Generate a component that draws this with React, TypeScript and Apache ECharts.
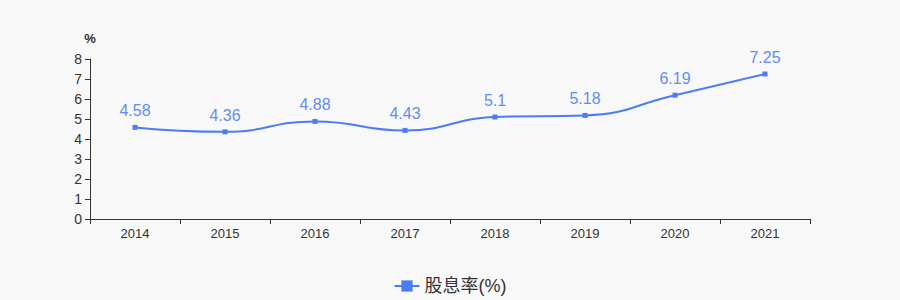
import React, { useEffect, useRef } from "react";
import * as echarts from "echarts";

const categories = ["2014", "2015", "2016", "2017", "2018", "2019", "2020", "2021"];
const dividendYield = [4.58, 4.36, 4.88, 4.43, 5.1, 5.18, 6.19, 7.25];
const seriesName = "股息率(%)";

export default function App() {
  const ref = useRef<HTMLDivElement>(null);
  useEffect(() => {
    const chart = echarts.init(ref.current!, null, { renderer: "svg" });
    chart.setOption({
      animation: false,
      backgroundColor: "#f8f8f8",
      textStyle: { fontFamily: "Arial, 'Liberation Sans', 'Noto Sans CJK SC', sans-serif" },
      grid: { left: 90, right: 90, top: 59, bottom: 81, containLabel: false },
      legend: {
        bottom: 0,
        left: "center",
        itemWidth: 25,
        itemHeight: 14,
        textStyle: { fontSize: 18, color: "#333" },
        data: [seriesName],
      },
      xAxis: {
        type: "category",
        data: categories,
        boundaryGap: true,
        axisLine: { lineStyle: { color: "#333" } },
        axisTick: { show: true, length: 5, lineStyle: { color: "#333" } },
        axisLabel: { color: "#333", fontSize: 13, margin: 8 },
      },
      yAxis: {
        type: "value",
        name: "%",
        nameLocation: "end",
        nameGap: 14,
        nameTextStyle: { color: "#333", fontSize: 13, fontWeight: "bold", align: "center" },
        min: 0,
        max: 8,
        interval: 1,
        axisLine: { show: true, lineStyle: { color: "#333" } },
        axisTick: { show: true, length: 5, lineStyle: { color: "#333" } },
        axisLabel: { color: "#333", fontSize: 14, margin: 8 },
        splitLine: { show: false },
      },
      series: [
        {
          name: seriesName,
          type: "line",
          data: dividendYield,
          smooth: true,
          symbol: "rect",
          symbolSize: 5,
          itemStyle: { color: "#4a7cf7" },
          lineStyle: { color: "#4a7cf7", width: 2 },
          label: { show: true, position: "top", color: "#638cf5", fontSize: 16, distance: 6 },
        },
      ],
    });
    return () => chart.dispose();
  }, []);
  return <div ref={ref} style={{ width: 900, height: 300, position: "absolute", left: 0, top: 0 }} />;
}
